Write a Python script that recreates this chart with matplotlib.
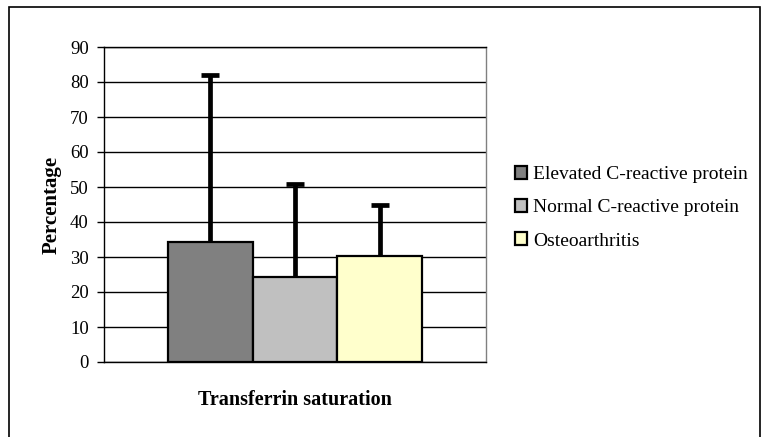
import matplotlib
matplotlib.use("Agg")
import matplotlib.pyplot as plt
from matplotlib.patches import Rectangle

groups = ["Elevated C-reactive protein", "Normal C-reactive protein", "Osteoarthritis"]
means = [34.2, 24.4, 30.3]
errors_up = [47.7, 26.4, 14.5]
colors = ["#808080", "#C0C0C0", "#FFFFCC"]
yticks = [0, 10, 20, 30, 40, 50, 60, 70, 80, 90]
xlabel = "Transferrin saturation"
ylabel = "Percentage"

plt.rcParams['font.family'] = ['Liberation Serif', 'DejaVu Serif']

W, H = 763, 437
fig = plt.figure(figsize=(W/100, H/100), dpi=100)
ax = fig.add_axes([104/W, 1-362/H, 382/W, 315/H])

positions = [-1, 0, 1]
handles = []
for x, m, e, c, g in zip(positions, means, errors_up, colors, groups):
    b = ax.bar(x, m, width=1.0, color=c, edgecolor="black", linewidth=1.6, label=g, zorder=3)
    _, caps, _ = ax.errorbar(x, m, yerr=[[0], [e]], fmt="none", ecolor="black", elinewidth=3.4,
                             capsize=6.5, capthick=3.4, zorder=4)
    for cl in caps:
        yd = cl.get_ydata()
        if abs(float(yd[0]) - m) < 1e-6:
            cl.set_visible(False)
    handles.append(b)

ax.set_xlim(-2.25, 2.25)
ax.set_ylim(0, 90)
ax.set_yticks(yticks)
ax.set_xticks([])
ax.tick_params(axis="y", labelsize=13.5, length=5, width=1, direction="out", pad=6)
ax.grid(axis="y", color="black", linewidth=1, zorder=0)
for s in ax.spines.values():
    s.set_color("black")
    s.set_linewidth(1)
ax.spines["right"].set_color("#808080")

ax.set_ylabel(ylabel, fontsize=15, fontweight="bold", labelpad=6)
ax.set_xlabel(xlabel, fontsize=14.5, fontweight="bold", labelpad=20)

leg = fig.legend(handles=handles, labels=groups, loc="upper left",
                 bbox_to_anchor=(507/W, 1-158/H), frameon=False, fontsize=14,
                 handlelength=0.65, handleheight=0.65, handletextpad=0.3,
                 labelspacing=0.82, borderaxespad=0)

fig.patches.append(Rectangle((9/W, -5/H), (760-9)/W, (H-7+5)/H, transform=fig.transFigure,
                             fill=False, edgecolor="black", linewidth=1.2, clip_on=False))

fig.savefig("out.png", dpi=100)
